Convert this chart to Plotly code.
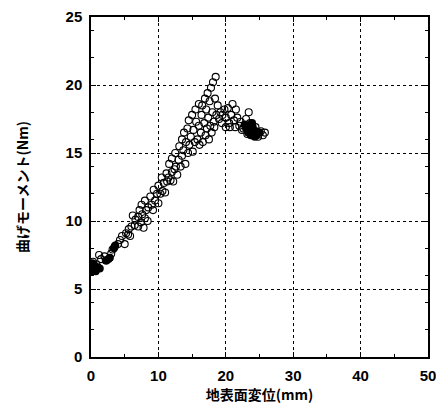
import plotly.graph_objects as go

# open-circle measurements (ground surface displacement mm, bending moment Nm)
x_open = [0.3,0.8,1.2,1.5,2.0,2.2,3.0,3.2,4.0,4.3,4.6,5.0,5.2,5.5,5.6,5.8,6.0,6.2,6.5,6.6,
          7.0,7.0,7.2,7.4,7.5,7.6,7.8,8.0,8.0,8.2,8.4,8.5,8.8,9.0,9.2,9.3,9.5,9.8,10.0,10.0,
          10.3,10.5,10.6,10.8,11.0,11.2,11.3,11.5,11.6,11.8,12.0,12.0,12.2,12.4,12.5,12.6,12.8,13.0,13.1,13.3,
          13.5,13.5,13.7,13.8,14.0,14.1,14.3,14.4,14.5,14.6,14.8,15.0,15.1,15.2,15.4,15.5,15.6,15.8,16.0,16.0,
          16.1,16.3,16.4,16.5,16.6,16.8,16.9,17.0,17.1,17.2,17.3,17.4,17.5,17.6,17.7,17.8,17.9,18.0,18.1,18.2,
          18.3,18.4,18.5,18.6,18.8,19.0,19.2,19.4,19.5,19.8,20.0,20.0,20.3,20.5,20.6,20.8,21.0,21.2,21.4,21.5,
          21.7,22.0,22.2,22.4,22.6,23.0,23.2,23.4,23.6,24.0,24.4,24.8,25.2,25.8,25.5]
y_open = [7.0,6.8,7.5,7.2,7.4,7.1,7.6,7.9,8.3,8.6,8.9,8.3,9.1,9.0,9.4,8.9,9.6,10.4,9.7,10.1,
          9.6,10.3,10.8,9.9,11.2,10.5,9.5,10.2,11.5,10.8,10.0,11.0,11.8,11.2,10.8,12.3,11.5,12.0,11.3,12.6,
          12.0,13.2,12.2,12.8,12.1,13.5,12.9,13.2,14.2,13.0,13.6,14.6,12.9,13.8,15.0,14.0,13.4,14.5,15.5,14.0,
          16.0,14.8,15.2,16.5,14.2,15.8,16.8,15.0,17.4,15.6,16.2,17.8,15.1,16.7,15.8,18.2,17.3,16.0,18.6,17.0,
          15.6,16.5,17.8,18.5,15.8,17.2,19.0,16.3,18.2,16.8,19.4,17.6,16.0,18.8,17.0,19.8,16.5,18.0,20.2,17.3,
          16.9,19.0,20.6,17.8,18.5,17.5,18.0,17.2,17.8,18.2,16.9,17.6,18.3,17.2,16.9,17.8,18.6,17.4,16.9,18.2,
          17.6,17.0,17.3,16.7,16.8,17.5,16.4,18.0,17.2,16.3,16.9,16.2,16.6,16.5,16.3]

# dense (filled-looking) clusters
x_fill = [0.1,0.2,0.3,0.4,0.5,0.7,1.0,1.3,0.2,0.6,2.3,2.6,2.8,3.4,3.6,3.5,
          23.0,23.3,23.5,23.8,24.0,24.2,24.5,24.8,23.7,24.3,23.9,23.4,25.0,24.6,22.8]
y_fill = [6.3,6.6,6.4,6.8,6.5,6.3,6.6,6.5,6.9,6.7,7.1,7.2,7.3,8.0,8.2,8.1,
          16.8,16.5,17.0,16.6,16.9,16.4,16.6,16.5,16.3,16.2,17.2,16.7,16.5,16.3,17.1]

x_ticks = [0, 10, 20, 30, 40, 50]
y_ticks = [0, 5, 10, 15, 20, 25]

fig = go.Figure()
fig.add_trace(go.Scatter(x=x_open, y=y_open, mode="markers",
                         marker=dict(symbol="circle-open", size=7, color="black",
                                     line=dict(width=1.1, color="black"))))
fig.add_trace(go.Scatter(x=x_fill, y=y_fill, mode="markers",
                         marker=dict(symbol="circle", size=8, color="black")))

tickfont = dict(family="Liberation Sans Narrow, Liberation Sans, Arial", size=15,
                color="black", weight="bold")
axis_common = dict(showline=True, linecolor="black", linewidth=1.5, mirror="ticks",
                   ticks="inside", ticklen=5, tickcolor="black",
                   showgrid=True, gridcolor="black", gridwidth=1, griddash="dot",
                   zeroline=False, tickfont=tickfont, ticklabelstandoff=4, automargin=False,
                   ticklabeloverflow="allow",
                   minor=dict(ticks="inside", ticklen=3, tickcolor="black", nticks=5, showgrid=False))

fig.update_xaxes(range=[0, 50], tickvals=x_ticks, ticktext=[str(v) for v in x_ticks],
                 title=dict(text="<b>地表面変位(mm)</b>", standoff=6,
                            font=dict(family="Noto Sans CJK JP", size=14, color="black")),
                 **axis_common)
fig.update_yaxes(range=[0, 25], tickvals=y_ticks, ticktext=[str(v) for v in y_ticks],
                 title=dict(text="<b>曲げモーメント(Nm)</b>", standoff=34,
                            font=dict(family="Noto Sans CJK JP", size=14, color="black")),
                 **axis_common)

fig.update_layout(width=436, height=405, showlegend=False,
                  margin=dict(l=91, r=8, t=17, b=48),
                  plot_bgcolor="white", paper_bgcolor="white")
fig.write_html("out.html")
